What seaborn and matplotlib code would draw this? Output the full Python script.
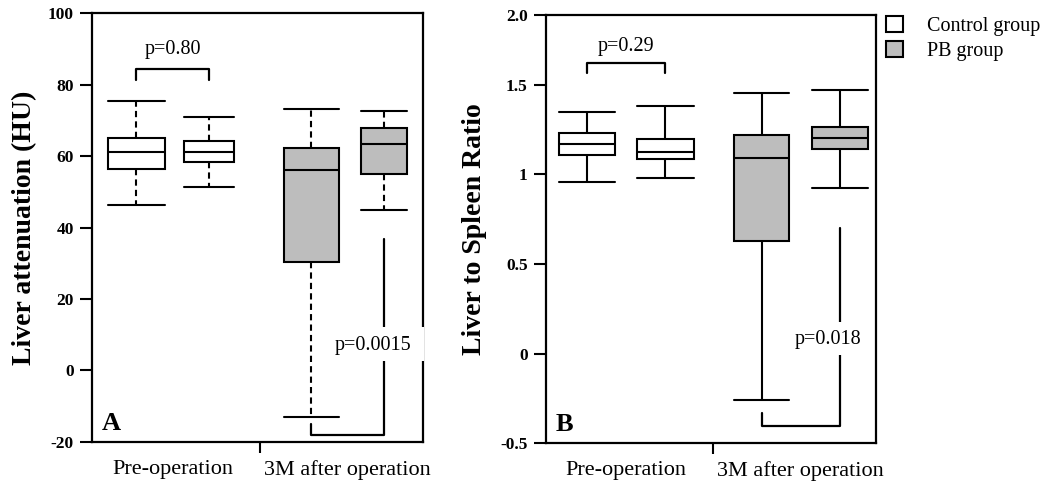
import numpy as np
import pandas as pd
import matplotlib
matplotlib.use("Agg")
import matplotlib.pyplot as plt
from matplotlib.patches import Patch, Rectangle
from matplotlib.path import Path
import seaborn as sns

# ---------------- data (five-number summaries: min, Q1, median, Q3, max) ----------------
timepoints = ["Pre-operation", "3M after operation"]
groups = ["Control group", "PB group"]

liver_hu_pre_control = [46.3, 56.5, 61.1, 64.9, 75.4]
liver_hu_pre_pb = [51.2, 58.2, 61.1, 64.3, 70.9]
liver_hu_3m_control = [-13.0, 30.3, 56.2, 62.3, 73.1]
liver_hu_3m_pb = [45.0, 55.0, 63.5, 67.7, 72.5]

ratio_pre_control = [0.959, 1.110, 1.172, 1.229, 1.349]
ratio_pre_pb = [0.978, 1.086, 1.125, 1.198, 1.381]
ratio_3m_control = [-0.261, 0.629, 1.093, 1.218, 1.457]
ratio_3m_pb = [0.925, 1.140, 1.203, 1.267, 1.470]

p_labels_A = ["p=0.80", "p=0.0015"]
p_labels_B = ["p=0.29", "p=0.018"]

ytick_labels_A = ["-20", "0", "20", "40", "60", "80", "100"]
ytick_labels_B = ["-0.5", "0", "0.5", "1", "1.5", "2.0"]


def make_frame(pre_c, pre_p, m3_c, m3_p):
    rows = []
    for t, g, vals in [(timepoints[0], groups[0], pre_c), (timepoints[0], groups[1], pre_p),
                       (timepoints[1], groups[0], m3_c), (timepoints[1], groups[1], m3_p)]:
        for v in vals:
            rows.append((t, g, v))
    return pd.DataFrame(rows, columns=["time", "group", "value"])


df_A = make_frame(liver_hu_pre_control, liver_hu_pre_pb, liver_hu_3m_control, liver_hu_3m_pb)
df_B = make_frame(ratio_pre_control, ratio_pre_pb, ratio_3m_control, ratio_3m_pb)

# ---------------- style ----------------
sns.set_style("ticks")
plt.rcParams["font.family"] = ["Liberation Serif", "DejaVu Serif"]
plt.rcParams["axes.linewidth"] = 1.6
for key in ["text.color", "axes.labelcolor", "xtick.color", "ytick.color", "axes.edgecolor"]:
    plt.rcParams[key] = "black"

GRAY = "#bdbdbd"
LW = 1.5

fig = plt.figure(figsize=(10.48, 4.88), dpi=100)
axA = fig.add_axes([0.0878, 0.0943, 0.3158, 0.879])
axB = fig.add_axes([0.5207, 0.0916, 0.3152, 0.8777])


def draw_panel(ax, df, width, gap, box_widths, whisker_ls):
    sns.boxplot(data=df, x="time", y="value", hue="group", order=timepoints,
                hue_order=groups, palette=["white", "white"], width=width, gap=gap,
                whis=(0, 100), fliersize=0, linewidth=LW, linecolor="black",
                legend=False, ax=ax,
                whiskerprops=dict(linestyle=whisker_ls))
    centers = []
    for patch in ax.patches:
        v = patch.get_path().vertices
        centers.append(0.5 * (v[:, 0].min() + v[:, 0].max()))
    order = np.argsort(centers)
    sorted_centers = np.array(centers)[order]
    for rank, idx in enumerate(order):
        patch = ax.patches[idx]
        path = patch.get_path()
        v = path.vertices.copy()
        cx = centers[idx]
        half = 0.5 * (v[:, 0].max() - v[:, 0].min())
        v[:, 0] = cx + (v[:, 0] - cx) / half * (box_widths[rank] / 2)
        newpath = Path(v, path.codes)
        if hasattr(patch, "set_path"):
            patch.set_path(newpath)
        else:
            patch._path = newpath
        patch.set_facecolor("white" if cx < 0.5 else GRAY)
        patch.set_edgecolor("black")
        patch.set_linewidth(LW)
    for line in ax.lines:
        xd = np.asarray(line.get_xdata(), dtype=float)
        yd = np.asarray(line.get_ydata(), dtype=float)
        if len(xd) == 2 and abs(yd[0] - yd[1]) < 1e-12 and abs(xd[0] - xd[1]) > 1e-9:
            cx = xd.mean()
            rank = int(np.argmin(np.abs(sorted_centers - cx)))
            w = box_widths[rank]
            line.set_xdata([sorted_centers[rank] - w / 2, sorted_centers[rank] + w / 2])
            line.set_linestyle("-")
    return sorted_centers


cA = draw_panel(axA, df_A, 0.83, 0.28, [0.323, 0.289, 0.317, 0.266], (0, (3.0, 2.0)))
cB = draw_panel(axB, df_B, 0.90, 0.29, [0.319, 0.323, 0.313, 0.323], "-")


def finish_axes(ax, ylim, yticks, yticklabels, ylabel, label_x, letter):
    ax.set_xlim(-0.46, 1.43)
    ax.set_ylim(*ylim)
    ax.set_xticks([0.5], labels=[""])
    ax.set_xticks([0, 1], labels=timepoints, minor=True)
    ax.tick_params(axis="x", which="major", length=8, width=1.5, direction="out", color="black")
    ax.tick_params(axis="x", which="minor", length=0, pad=13, labelsize=16, labelcolor="black")
    ax.set_yticks(yticks, labels=yticklabels)
    ax.tick_params(axis="y", which="major", length=9, width=1.5, direction="out",
                   labelsize=12.5, pad=4, color="black", labelcolor="black")
    for lab in ax.get_yticklabels():
        lab.set_fontweight("bold")
    ax.set_xlabel("")
    ax.set_ylabel(ylabel, fontsize=20, fontweight="bold", color="black")
    ax.yaxis.set_label_coords(label_x, 0.5)
    for s in ax.spines.values():
        s.set_visible(True)
        s.set_color("black")
        s.set_linewidth(1.6)
    ax.text(0.03, 0.028, letter, transform=ax.transAxes, fontsize=19,
            fontweight="bold", ha="left", va="baseline", color="black")


finish_axes(axA, (-20, 100), [-20, 0, 20, 40, 60, 80, 100], ytick_labels_A,
            "Liver attenuation (HU)", -0.165, "A")
topB = 1.89
finish_axes(axB, (-0.5, topB), [-0.5, 0, 0.5, 1, 1.5, topB], ytick_labels_B,
            "Liver to Spleen Ratio", -0.178, "B")


def top_bracket(ax, x0, x1, y, tip, label, label_y):
    ax.plot([x0, x0, x1, x1], [tip, y, y, tip], color="black", lw=1.6)
    ax.text((x0 + x1) / 2, label_y, label, ha="center", va="center", fontsize=14.5,
            color="black")


def bottom_bracket(ax, x_short, x_long, y_bottom, y_short, y_long, label, label_x,
                   label_y, gap_lo, gap_hi, gap_x0, gap_x1):
    ax.plot([x_short, x_short, x_long, x_long], [y_short, y_bottom, y_bottom, y_long],
            color="black", lw=1.6, zorder=2)
    # white background behind the p-value label (breaks the bracket line)
    ax.add_patch(Rectangle((gap_x0, gap_lo), gap_x1 - gap_x0, gap_hi - gap_lo,
                           facecolor="white", edgecolor="none", zorder=2.7,
                           clip_on=False))
    ax.text(label_x, label_y, label, ha="center", va="center", fontsize=14.5, zorder=5,
            color="black")


top_bracket(axA, cA[0], cA[1], 84.3, 81.4, p_labels_A[0], 89.8)
bottom_bracket(axA, cA[2], cA[3], -18.1, -15.1, 36.8, p_labels_A[1], 1.147, 7.0,
               2.6, 12.1, 0.90, 1.438)
top_bracket(axB, cB[0], cB[1], 1.623, 1.569, p_labels_B[0], 1.713)
bottom_bracket(axB, cB[2], cB[3], -0.401, -0.330, 0.70, p_labels_B[1], 1.154, 0.08,
               -0.01, 0.177, 0.93, 1.38)

handles = [Patch(facecolor="white", edgecolor="black", linewidth=1.5, label=groups[0]),
           Patch(facecolor=GRAY, edgecolor="black", linewidth=1.5, label=groups[1])]
fig.legend(handles=handles, loc="upper left", bbox_to_anchor=(886 / 1048, 1 - 16 / 488),
           frameon=False, fontsize=14.5, handlelength=0.85, handleheight=0.85,
           handletextpad=1.2, labelspacing=0.25, borderpad=0, borderaxespad=0,
           labelcolor="black")

fig.savefig("out.png", dpi=100)
